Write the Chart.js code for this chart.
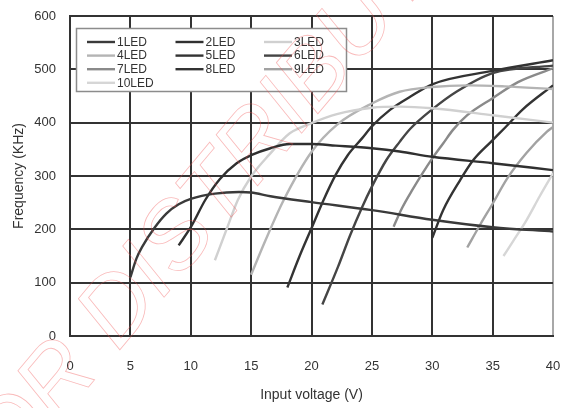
<!DOCTYPE html>
<html>
<head>
<meta charset="utf-8">
<title>Frequency vs input voltage</title>
<script src="https://cdn.jsdelivr.net/npm/chart.js@4.4.1/dist/chart.umd.min.js"></script>
<style>
  html, body { margin: 0; padding: 0; background: #fff; }
  #wrap { width: 563px; height: 408px; position: relative; }
</style>
</head>
<body>
<div id="wrap"><canvas id="freqChart"></canvas></div>
<script>
// Switching frequency (kHz) vs input voltage (V), one curve per number of LEDs in the string
const ledNames = ['1LED', '2LED', '3LED', '4LED', '5LED', '6LED', '7LED', '8LED', '9LED', '10LED'];

// [input voltage, frequency] pairs
const led1 = [[5, 110], [5.5, 145], [6, 168], [7, 203], [8, 230], [9, 247], [10, 257], [12, 267], [14, 270], [15, 269], [16.6, 262], [20, 251], [25, 236], [30, 218], [35, 204], [40, 196]];
const led2 = [[9, 170], [10, 204], [11.2, 255], [12.4, 294], [13.8, 324], [15, 339], [16.6, 352], [18.2, 360], [20, 360], [22, 357], [25, 352], [27.3, 346], [30, 336], [35, 324], [40, 311]];
const led3 = [[12, 142], [13, 202], [13.9, 255], [15, 299], [16.5, 340], [18.2, 380], [20, 399], [22.1, 416], [25, 428], [27.3, 430], [30, 427], [35, 414], [40, 400]];
const led4 = [[15, 115], [16.2, 180], [17.7, 255], [20, 345], [22.1, 396], [25, 436], [27.3, 458], [30, 467], [33, 470], [36, 468], [40, 463]];
const led5 = [[18, 91], [19, 149], [20, 202], [21, 255], [22, 302], [23, 339], [24.2, 371], [25, 393], [26.5, 424], [28.2, 449], [30, 472], [35, 497], [40, 517]];
const led6 = [[20.9, 59], [22.2, 130], [23.2, 189], [24.2, 242], [25, 280], [26.2, 330], [27.3, 364], [28.2, 389], [30, 425], [32, 458], [35, 493], [40, 507]];
const led7 = [[26.8, 205], [27.5, 240], [28.3, 272], [30, 333], [30.9, 361], [31.7, 386], [32.9, 414], [35, 446], [37.1, 476], [40, 502]];
const led8 = [[30, 184], [30.9, 236], [32.3, 292], [33.4, 330], [34.9, 365], [36, 390], [37.5, 425], [40, 470]];
const led9 = [[32.9, 166], [34, 210], [35, 248], [36.2, 295], [37.8, 343], [39.5, 383], [40, 392]];
const led10 = [[35.9, 150], [36.7, 178], [37.8, 217], [38.9, 262], [40, 305]];

const xTicks = [0, 5, 10, 15, 20, 25, 30, 35, 40];
const yTicks = [0, 100, 200, 300, 400, 500, 600];

const allSeries = [led1, led2, led3, led4, led5, led6, led7, led8, led9, led10];
const lineColors = ['#3a3a3a', '#303030', '#d0d0d0', '#b4b4b4', '#333333', '#454545', '#8a8a8a', '#333333', '#a2a2a2', '#d6d6d6'];

const FONT = 'Liberation Sans, Arial, sans-serif';

// legend drawn inside the plot, three columns
const boxLegend = {
    id: 'boxLegend',
    afterDatasetsDraw(chart) {
        const ctx = chart.ctx;
        ctx.save();
        ctx.fillStyle = '#fff';
        ctx.strokeStyle = '#8c8c8c';
        ctx.lineWidth = 1.5;
        ctx.fillRect(76.5, 28.5, 270, 63);
        ctx.strokeRect(76.5, 28.5, 270, 63);
        ctx.font = '12px ' + FONT;
        ctx.textBaseline = 'middle';
        chart.data.datasets.forEach((ds, i) => {
            const x0 = 87 + (i % 3) * 88.5;
            const y = 42 + Math.floor(i / 3) * 13.6;
            ctx.strokeStyle = ds.borderColor;
            ctx.lineWidth = ds.borderWidth;
            ctx.beginPath();
            ctx.moveTo(x0, y);
            ctx.lineTo(x0 + 28, y);
            ctx.stroke();
            ctx.fillStyle = '#333';
            ctx.fillText(ds.label, x0 + 30, y + 0.5);
        });
        ctx.restore();
    }
};

// faint red outlined stamp across the page
const stamp = {
    id: 'stamp',
    afterDraw(chart) {
        const ctx = chart.ctx;
        ctx.save();
        ctx.translate(118, 352);
        ctx.rotate(-50 * Math.PI / 180);
        ctx.font = 'italic 94px ' + FONT;
        ctx.textBaseline = 'alphabetic';
        ctx.strokeStyle = 'rgba(240, 80, 80, 0.4)';
        ctx.lineWidth = 0.8;
        const lead = ctx.measureText('FOR ').width;
        ctx.strokeText('FOR DISTRIBUTION', -lead, 0);
        ctx.restore();
    }
};

function gridColor(last) {
    return ctx => (ctx.tick && ctx.tick.value === last ? '#a8a8a8' : '#333');
}

function createChart() {
    const datasets = allSeries.map((series, i) => ({
        label: ledNames[i],
        data: series.map(([x, y]) => ({ x, y })),
        borderColor: lineColors[i],
        borderWidth: 2.4,
        pointRadius: 0,
        fill: false,
        cubicInterpolationMode: 'monotone'
    }));

    new Chart(document.getElementById('freqChart'), {
        type: 'line',
        data: { datasets },
        options: {
            responsive: true,
            maintainAspectRatio: false,
            animation: false,
            layout: { padding: { top: 16, right: 10, left: 0, bottom: 0 } },
            plugins: {
                legend: { display: false },
                tooltip: { enabled: false }
            },
            scales: {
                x: {
                    type: 'linear',
                    min: xTicks[0],
                    max: xTicks[xTicks.length - 1],
                    afterFit: scale => { scale.height = 72; },
                    ticks: {
                        stepSize: xTicks[1] - xTicks[0],
                        color: '#333',
                        font: { family: FONT, size: 13 },
                        padding: 2
                    },
                    // invisible tick marks keep the labels away from the axis
                    grid: {
                        color: gridColor(xTicks[xTicks.length - 1]),
                        lineWidth: 2,
                        drawTicks: true,
                        tickLength: 21,
                        tickColor: 'rgba(0,0,0,0)'
                    },
                    border: { display: true, color: '#333', width: 2 },
                    title: {
                        display: true,
                        text: 'Input voltage (V)',
                        color: '#333',
                        font: { family: FONT, size: 14 },
                        padding: { top: 0, bottom: 4 }
                    }
                },
                y: {
                    min: yTicks[0],
                    max: yTicks[yTicks.length - 1],
                    afterFit: scale => { scale.width = 70; },
                    ticks: {
                        stepSize: yTicks[1] - yTicks[0],
                        color: '#333',
                        font: { family: FONT, size: 13 },
                        padding: 2
                    },
                    grid: {
                        color: '#333',
                        lineWidth: 2,
                        drawTicks: true,
                        tickLength: 12,
                        tickColor: 'rgba(0,0,0,0)'
                    },
                    border: { display: true, color: '#333', width: 2 },
                    title: {
                        display: true,
                        text: 'Frequency (KHz)',
                        color: '#333',
                        font: { family: FONT, size: 14 },
                        padding: { top: 11, bottom: 0 }
                    }
                }
            }
        },
        plugins: [boxLegend, stamp]
    });
}

window.addEventListener('load', createChart);
</script>
</body>
</html>
